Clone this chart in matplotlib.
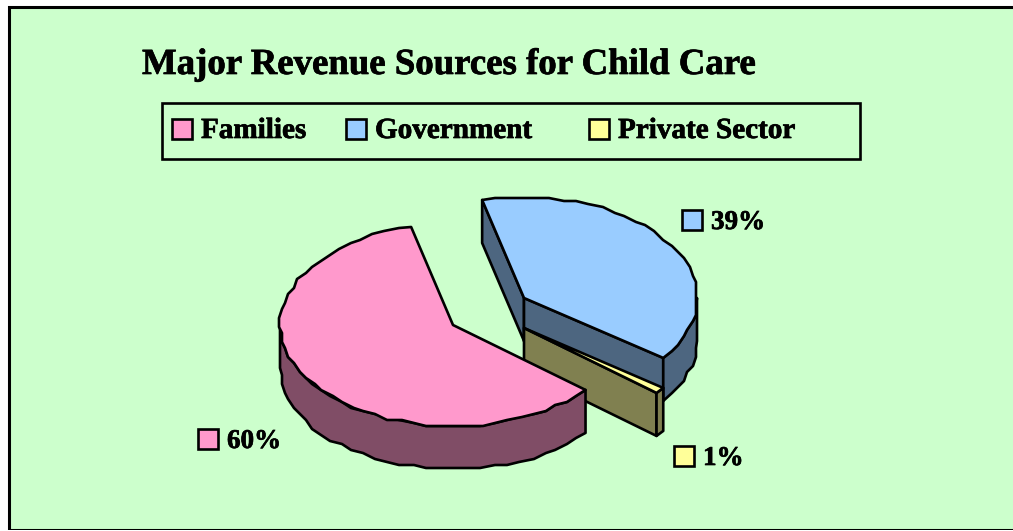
#!/usr/bin/env python

import numpy as np
import matplotlib
matplotlib.use("Agg")
from matplotlib import pyplot as plt
from matplotlib import patheffects
from matplotlib.patches import Polygon, Rectangle

title = "Major Revenue Sources for Child Care"
categories = ["Families", "Government", "Private Sector"]
shares = [60, 39, 1]
face_colors = ["#FF99CC", "#99CCFF", "#FFFF99"]
wall_colors = ["#804D66", "#4D6680", "#808050"]

BG = "#CCFFCC"
START_ANGLE = 104.0
RX, RY, DEPTH = 173, 101, 43
LW = 1.9
FONT = "Liberation Serif"
HEAVY = [patheffects.withStroke(linewidth=0.5, foreground="black")]

# exploded centres, in pixels
centers = [(453, 325), (524, 298), (524, 328)]


def arc(center, t0, t1, depth=0):
    """ Ellipse arc snapped to a coarse grid, gives the jagged outline """
    n = max(2, int(abs(t1 - t0) / 4.5) + 1)
    t = np.radians(np.linspace(t0, t1, n))
    x = center[0] + RX * np.cos(t)
    y = center[1] - RY * np.sin(t) + depth
    x[1:-1] = np.round(x[1:-1] / 3) * 3
    y[1:-1] = np.round(y[1:-1] / 3) * 3
    return np.column_stack([x, y])


def poly(ax, pts, color):
    ax.add_patch(Polygon(pts, closed=True, facecolor=color, edgecolor="black",
                         lw=LW, joinstyle="round"))


def radial_wall(ax, center, t, color):
    tip = arc(center, t, t)[0]
    pts = [center, tip, (tip[0], tip[1] + DEPTH), (center[0], center[1] + DEPTH)]
    poly(ax, pts, color)


def outer_wall(ax, center, t0, t1, color):
    top = arc(center, t0, t1)
    bottom = arc(center, t0, t1, DEPTH)
    poly(ax, np.vstack([top, bottom[::-1]]), color)


def top_face(ax, center, t0, t1, color):
    poly(ax, np.vstack([[center], arc(center, t0, t1)]), color)


def key(ax, x, y, color, label, size):
    ax.add_patch(Rectangle((x, y), 20, 20, facecolor=color, edgecolor="black", lw=LW))
    ax.text(x + 29, y + 19, label, fontsize=size, fontweight="bold", family=FONT,
            va="baseline", ha="left", color="black", path_effects=HEAVY)


fig = plt.figure(figsize=(10.13, 5.31), dpi=100, facecolor="white")
ax = fig.add_axes([0, 0, 1, 1])
ax.set_xlim(0, 1013)
ax.set_ylim(531, 0)
ax.axis("off")

# chart area, runs off the right and bottom of the picture
ax.add_patch(Rectangle((9, 7), 1100, 523, facecolor=BG, edgecolor="black", lw=2.2))
ax.add_patch(Rectangle((0, 530), 1013, 1, facecolor="white", edgecolor="none", zorder=5))

ax.text(142, 74, title, fontsize=26.5, fontweight="bold", family=FONT, va="baseline",
        path_effects=HEAVY)

# legend
ax.add_patch(Rectangle((162, 103), 698, 56, facecolor="none", edgecolor="black", lw=LW))
for x, color, label in zip([172, 346, 589], face_colors, categories):
    key(ax, x, 119, color, label, 21)

# slice angles run clockwise for blue, counter clockwise for pink
pink_end = START_ANGLE + shares[0] * 3.6
blue_end = START_ANGLE - shares[1] * 3.6
yellow_end = blue_end - shares[2] * 3.6

# government
radial_wall(ax, centers[1], START_ANGLE, wall_colors[1])
radial_wall(ax, centers[1], blue_end, wall_colors[1])
outer_wall(ax, centers[1], blue_end, 0, wall_colors[1])
top_face(ax, centers[1], START_ANGLE, blue_end, face_colors[1])

# private sector sliver sits in front of the blue wall
radial_wall(ax, centers[2], yellow_end, wall_colors[2])
outer_wall(ax, centers[2], yellow_end, blue_end, wall_colors[2])
top_face(ax, centers[2], blue_end, yellow_end, face_colors[2])

# families
outer_wall(ax, centers[0], 180, pink_end, wall_colors[0])
top_face(ax, centers[0], START_ANGLE, pink_end, face_colors[0])

# data labels
key(ax, 198, 429, face_colors[0], f"{shares[0]}%", 19.5)
key(ax, 682, 210, face_colors[1], f"{shares[1]}%", 19.5)
key(ax, 674, 446, face_colors[2], f"{shares[2]}%", 19.5)

fig.savefig("out.png", dpi=100, facecolor=fig.get_facecolor())
